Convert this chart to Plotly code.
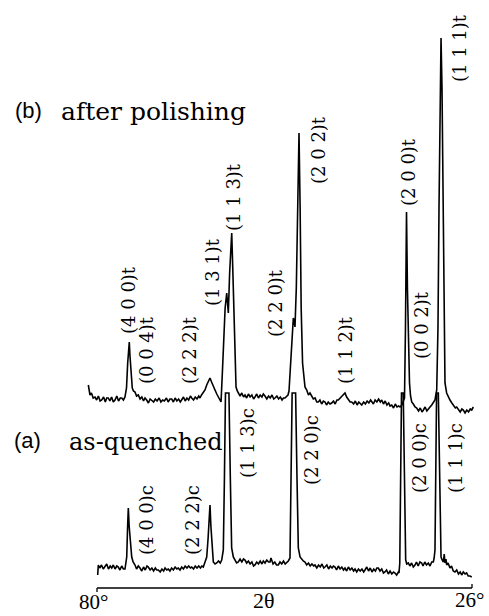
import plotly.graph_objects as go

# ---- data: 2-theta (deg) and intensity (arb. units) ----
# (b) after polishing
two_theta_b = [
    81.25, 81.10, 81.01, 80.80, 80.55, 80.29, 80.05, 79.80, 79.55, 79.32,
    79.05, 78.80, 78.60, 78.37, 78.15, 77.90, 77.65, 77.41, 77.15, 76.90,
    76.65, 76.44, 76.20, 75.97, 75.75, 75.58, 75.45, 75.35, 75.25, 75.10,
    74.92, 74.75, 74.53, 74.30, 74.05, 73.80, 73.55, 73.30, 73.09, 72.85,
    72.60, 72.35, 72.12, 71.85, 71.60, 71.35, 71.05, 70.80, 70.55, 70.30,
    70.00, 69.75, 69.50, 69.24, 69.00, 68.75, 68.50, 68.25, 68.00, 67.80,
    67.55, 67.30, 67.05, 66.80, 66.55, 66.36, 66.10, 65.85, 65.60, 65.35,
    65.17, 64.95, 64.70, 64.45, 64.20, 63.95, 63.73, 63.50, 63.25, 63.01,
    62.75, 62.45, 62.14, 61.95, 61.81, 61.55, 61.32, 61.20, 61.09, 60.90,
    60.75, 60.60, 60.45, 60.25, 59.98, 59.80, 59.65, 59.40, 59.15, 58.90,
    58.69, 58.45, 58.20, 57.95, 57.70, 57.45, 57.25, 57.00, 56.75, 56.50,
    56.25, 56.05, 55.81, 55.55, 55.30, 55.05, 54.80, 54.55, 54.37, 54.10,
    53.85, 53.60, 53.35, 53.15, 52.93, 52.70, 52.50, 52.35, 52.13, 51.90,
    51.73, 51.60, 51.49, 51.30, 51.15, 50.91, 50.75, 50.60, 50.40, 50.20,
    50.05, 49.80, 49.55, 49.33, 49.08, 48.85, 48.60, 48.35, 48.13, 47.90,
    47.65, 47.40, 47.17, 46.95, 46.70, 46.45, 46.20, 45.95, 45.70, 45.45,
    45.25, 45.00, 44.75, 44.50, 44.29, 44.05, 43.80, 43.55, 43.32, 43.05,
    42.80, 42.55, 42.30, 42.10, 41.88, 41.60, 41.35, 41.10, 40.85, 40.60,
    40.44, 40.20, 39.95, 39.70, 39.45, 39.20, 39.00, 38.75, 38.50, 38.25,
    38.00, 37.80, 37.56, 37.30, 37.05, 36.80, 36.55, 36.37, 36.10, 35.90,
    35.72, 35.58, 35.43, 35.30, 35.17, 35.00, 34.85, 34.68, 34.45, 34.20,
    33.96, 33.70, 33.45, 33.20, 33.00, 32.75, 32.50, 32.25, 32.05, 31.80,
    31.55, 31.33, 31.08, 30.90, 30.75, 30.60, 30.46, 30.32, 30.18, 30.05,
    29.89, 29.65, 29.40, 29.17, 28.90, 28.65, 28.40, 28.20, 27.95, 27.70,
    27.45, 27.25, 27.00, 26.75, 26.50, 26.25, 26.04, 25.81,
]
intensity_b = [
    203, 196, 193, 195, 190, 191, 188, 192, 187, 188,
    191, 186, 190, 190, 187, 191, 186, 188, 192, 187,
    190, 190, 188, 191, 200, 225, 240, 246, 232, 218,
    200, 197, 196, 192, 193, 189, 191, 187, 190, 188,
    185, 189, 188, 186, 189, 187, 190, 186, 188, 187,
    190, 186, 189, 189, 186, 190, 187, 189, 186, 188,
    191, 187, 190, 188, 192, 190, 188, 191, 189, 192,
    190, 193, 195, 198, 203, 207, 210, 206, 201, 198,
    194, 190, 186, 215, 245, 280, 295, 285, 275, 315,
    340, 355, 320, 260, 201, 197, 195, 192, 195, 191,
    193, 190, 194, 191, 193, 189, 191, 194, 190, 193,
    191, 194, 192, 189, 192, 190, 193, 189, 190, 192,
    189, 191, 188, 190, 190, 192, 193, 197, 225, 255,
    270, 266, 261, 300, 380, 455, 380, 280, 225, 206,
    201, 198, 193, 195, 191, 189, 190, 186, 186, 188,
    184, 187, 186, 183, 186, 184, 185, 187, 184, 188,
    188, 190, 192, 194, 195, 191, 188, 186, 186, 184,
    187, 183, 186, 184, 183, 186, 184, 187, 185, 188,
    186, 184, 188, 186, 189, 186, 188, 184, 187, 183,
    185, 182, 183, 180, 184, 181, 182, 181, 183, 186,
    190, 260, 376, 300, 253, 205, 192, 186, 184, 181,
    180, 177, 180, 176, 178, 181, 177, 180, 181, 183,
    186, 188, 198, 260, 380, 500, 550, 500, 380, 260,
    205, 195, 191, 188, 185, 183, 180, 181, 179, 176,
    179, 178, 175, 178, 176, 179, 178, 181,
]

# (a) as-quenched
two_theta_a = [
    79.90, 79.81, 79.60, 79.35, 79.10, 78.85, 78.60, 78.35, 78.10, 77.88,
    77.65, 77.40, 77.15, 76.93, 76.70, 76.45, 76.20, 75.97, 75.85, 75.72,
    75.60, 75.49, 75.37, 75.25, 75.12, 75.00, 74.80, 74.53, 74.30, 74.05,
    73.81, 73.55, 73.30, 73.05, 72.80, 72.61, 72.35, 72.10, 71.85, 71.60,
    71.40, 71.17, 70.90, 70.65, 70.40, 70.20, 69.95, 69.73, 69.50, 69.25,
    69.00, 68.75, 68.50, 68.29, 68.05, 67.80, 67.55, 67.30, 67.05, 66.80,
    66.55, 66.36, 66.10, 65.85, 65.60, 65.35, 65.10, 64.90, 64.69, 64.45,
    64.20, 64.00, 63.85, 63.73, 63.60, 63.48, 63.35, 63.25, 63.00, 62.76,
    62.50, 62.25, 62.04, 61.81, 61.65, 61.50, 61.25, 61.00, 60.80, 60.61,
    60.37, 60.15, 59.90, 59.65, 59.40, 59.15, 58.90, 58.69, 58.45, 58.20,
    57.95, 57.70, 57.45, 57.25, 57.00, 56.75, 56.50, 56.25, 56.05, 55.81,
    55.55, 55.30, 55.09, 54.95, 54.85, 54.65, 54.40, 54.15, 53.89, 53.65,
    53.40, 53.15, 52.90, 52.69, 52.45, 52.21, 52.05, 51.90, 51.65, 51.40,
    51.20, 51.01, 50.76, 50.55, 50.30, 50.05, 49.80, 49.55, 49.30, 49.05,
    48.80, 48.61, 48.35, 48.10, 47.85, 47.60, 47.35, 47.17, 46.90, 46.65,
    46.40, 46.15, 45.95, 45.73, 45.50, 45.25, 45.00, 44.75, 44.50, 44.29,
    44.05, 43.80, 43.55, 43.30, 43.05, 42.85, 42.60, 42.35, 42.10, 41.85,
    41.60, 41.41, 41.15, 40.90, 40.65, 40.40, 40.15, 39.90, 39.70, 39.49,
    39.25, 39.00, 38.75, 38.53, 38.30, 38.05, 37.80, 37.55, 37.30, 37.09,
    36.85, 36.60, 36.51, 36.40, 36.30, 36.15, 35.90, 35.70, 35.60, 35.55,
    35.40, 35.17, 34.95, 34.70, 34.45, 34.21, 34.00, 33.75, 33.50, 33.25,
    33.05, 32.80, 32.55, 32.29, 32.05, 31.80, 31.57, 31.45, 31.33, 31.25,
    31.10, 30.85, 30.62, 30.53, 30.46, 30.30, 30.12, 30.00, 29.89, 29.75,
    29.64, 29.45, 29.17, 28.95, 28.70, 28.45, 28.20, 27.95, 27.70, 27.49,
    27.25, 27.00, 26.77, 26.55, 26.29, 26.04,
]
intensity_a = [
    13, 23, 20, 23, 19, 21, 24, 19, 22, 20,
    23, 19, 22, 21, 18, 22, 19, 19, 24, 31,
    60, 80, 62, 48, 38, 31, 26, 23, 19, 22,
    20, 17, 21, 18, 22, 21, 18, 20, 17, 20,
    18, 18, 16, 19, 17, 20, 18, 19, 17, 20,
    18, 21, 19, 20, 18, 21, 19, 22, 20, 22,
    20, 21, 19, 22, 20, 22, 20, 22, 21, 25,
    31, 50, 70, 83, 62, 48, 34, 26, 24, 25,
    27, 25, 28, 38, 110, 195, 195, 195, 110, 40,
    31, 28, 25, 26, 29, 26, 29, 28, 25, 27,
    24, 26, 22, 23, 26, 24, 27, 24, 27, 25,
    28, 26, 26, 30, 28, 24, 26, 23, 23, 26,
    24, 27, 24, 25, 27, 30, 110, 195, 195, 195,
    110, 40, 31, 29, 27, 26, 23, 25, 22, 24,
    22, 23, 20, 23, 21, 24, 20, 21, 23, 19,
    22, 20, 22, 21, 18, 22, 19, 21, 18, 20,
    17, 21, 18, 20, 17, 19, 16, 19, 17, 19,
    16, 18, 21, 17, 20, 16, 19, 17, 20, 20,
    17, 19, 15, 16, 18, 14, 17, 14, 16, 15,
    13, 16, 15, 25, 110, 195, 195, 110, 40, 28,
    24, 25, 22, 25, 21, 23, 26, 22, 26, 25,
    22, 26, 23, 25, 22, 26, 26, 30, 38, 110,
    195, 195, 110, 40, 31, 28, 26, 34, 25, 29,
    23, 25, 20, 22, 17, 16, 18, 14, 16, 13,
    16, 14, 15, 12, 12, 11,
]

# peak labels: text, 2-theta, height
labels_b = ["(4 0 0)t", "(0 0 4)t", "(2 2 2)t", "(1 3 1)t", "(1 1 3)t", "(2 2 0)t",
            "(2 0 2)t", "(1 1 2)t", "(2 0 0)t", "(0 0 2)t", "(1 1 1)t"]
label_b_x = [75.54, 72.94, 66.75, 63.44, 60.42, 54.37, 48.18, 44.29, 35.22, 33.34, 27.87]
label_b_y = [288, 238, 238, 316, 391, 285, 438, 238, 416, 263, 540]

labels_a = ["(4 0 0)c", "(2 2 2)c", "(1 1 3)c", "(2 2 0)c", "(2 0 0)c", "(1 1 1)c"]
label_a_x = [72.94, 66.32, 58.40, 49.18, 33.63, 28.45]
label_a_y = [68, 68, 145, 138, 130, 130]

SERIF = "DejaVu Serif"
TIMES = "Liberation Serif, Times New Roman, serif"
SANS = "Liberation Sans, Arial, sans-serif"

fig = go.Figure()
fig.add_trace(go.Scatter(x=two_theta_a, y=intensity_a, mode="lines",
                         line=dict(color="black", width=1.6), hoverinfo="skip"))
fig.add_trace(go.Scatter(x=two_theta_b, y=intensity_b, mode="lines",
                         line=dict(color="black", width=1.6), hoverinfo="skip"))

ann = []
for txt, x, y in zip(labels_b + labels_a, label_b_x + label_a_x, label_b_y + label_a_y):
    ann.append(dict(x=x, y=y, text=txt, textangle=-90, showarrow=False,
                    xanchor="center", yanchor="middle",
                    font=dict(family=SERIF, size=18, color="black")))


def paper_text(x, y, text, family, size, xanchor="left", yanchor="middle"):
    return dict(xref="paper", yref="paper", x=x, y=y, text=text, showarrow=False,
                xanchor=xanchor, yanchor=yanchor,
                font=dict(family=family, size=size, color="black"))


# panel captions and axis text
ann += [
    paper_text(-0.185, 0.816, "(b)", SANS, 22),
    paper_text(-0.067, 0.814, "after polishing", SERIF, 25),
    paper_text(-0.187, 0.264, "(a)", SANS, 22),
    paper_text(-0.046, 0.261, "as-quenched", SERIF, 24),
    paper_text(0.021, -0.006, "80°", TIMES, 21, "center"),
    paper_text(0.459, -0.0284, "2θ", TIMES, 22, "center", "bottom"),
    paper_text(0.985, -0.004, "26°", TIMES, 21, "center"),
]

fig.update_layout(
    width=489, height=616,
    margin=dict(l=85, r=14, t=0, b=18),
    paper_bgcolor="white", plot_bgcolor="white",
    showlegend=False,
    xaxis=dict(range=[81.728, 25.568], visible=False),
    yaxis=dict(range=[-10, 588], visible=False),
    annotations=ann,
    shapes=[
        dict(type="line", xref="x", yref="y", x0=80, x1=26, y0=0, y1=0,
             line=dict(color="black", width=1.3)),
        dict(type="line", xref="x", yref="y", x0=80, x1=80, y0=0, y1=-4,
             line=dict(color="black", width=1.3)),
        dict(type="line", xref="x", yref="y", x0=26, x1=26, y0=0, y1=4,
             line=dict(color="black", width=1.3)),
    ],
)

fig.write_html("out.html", config={"displayModeBar": False},
               post_script="document.body.style.margin='0';")
